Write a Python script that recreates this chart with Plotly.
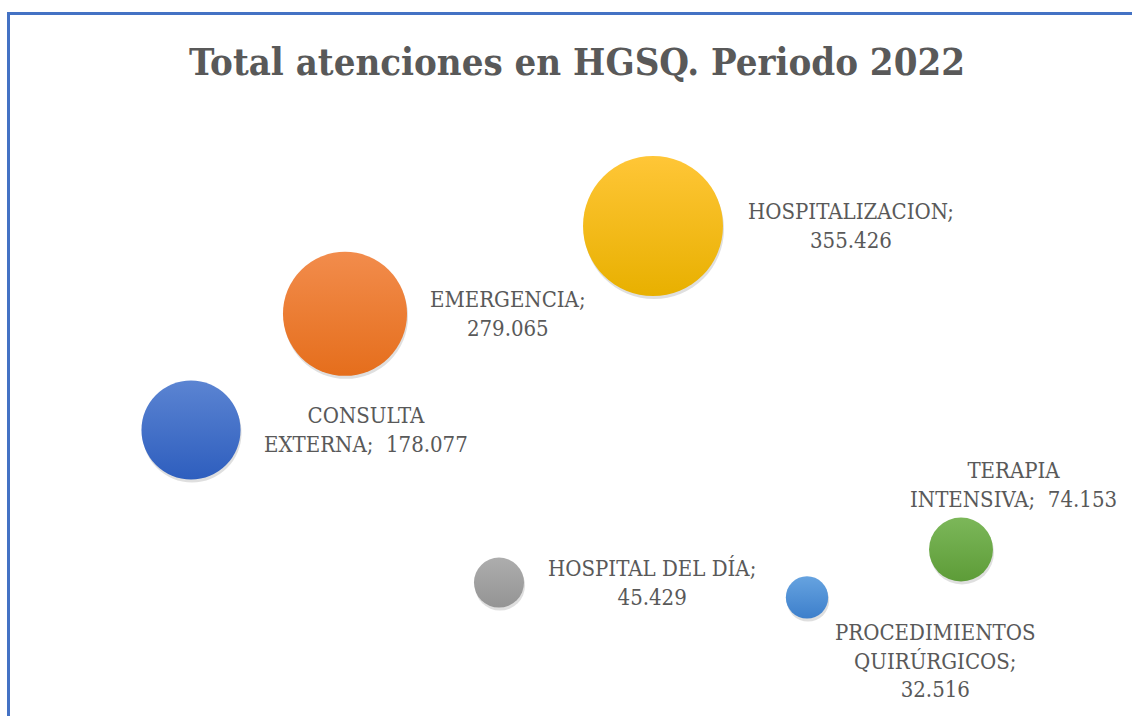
import plotly.graph_objects as go

# ---- data ----
categories = ["CONSULTA EXTERNA", "EMERGENCIA", "HOSPITAL DEL DÍA",
              "HOSPITALIZACION", "PROCEDIMIENTOS QUIRÚRGICOS", "TERAPIA INTENSIVA"]
x_pos = [1, 2, 3, 4, 5, 6]
values = [178077, 279065, 45429, 355426, 32516, 74153]

# ---- style ----
fill_top = ["#5B84D2", "#F28C4C", "#ADADAD", "#FFC637", "#66A3E0", "#7CB759"]
fill_bot = ["#2E5EBE", "#E56E1C", "#949494", "#E8B000", "#3D7FCB", "#5D9C38"]
break_after = [[0], [0], [2], [0], [0, 1], [0]]
label_shift = [(71, 0, "left"), (83, 0, "left"), (47, 0, "left"),
               (93, 0, "left"), (128, -64, "center"), (52, 65, "center")]
max_diam = 140
W, H = 1132, 716
FONT = "DejaVu Serif Condensed"
GREY = "#595959"

xr = [-0.24026, 7.11039]
yr = [-70563, 551902]
px_x = (xr[1] - xr[0]) / W
px_y = (yr[1] - yr[0]) / H

def fmt(v):
    return f"{v:,}".replace(",", ".")

def make_label(name, v, brk):
    toks = (name + ";").split(" ") + [fmt(v)]
    out = ""
    for i, t in enumerate(toks):
        out += t
        if i < len(toks) - 1:
            if i in brk:
                out += "<br>"
            elif t.endswith(";"):
                out += " \u00a0"
            else:
                out += " "
    return out

sizeref = 2.0 * max(values) / max_diam ** 2

fig = go.Figure()
# shadow (on base axes, shifted slightly)
fig.add_trace(go.Scatter(
    x=x_pos, y=values, mode="markers", xaxis="x", yaxis="y",
    marker=dict(size=values, sizemode="area", sizeref=sizeref,
                color="rgba(0,0,0,0.18)", line=dict(width=0)),
    hoverinfo="skip", showlegend=False))
# bubbles
fig.add_trace(go.Scatter(
    x=x_pos, y=values, mode="markers", xaxis="x2", yaxis="y2",
    marker=dict(size=values, sizemode="area", sizeref=sizeref,
                color=fill_top, gradient=dict(type="vertical", color=fill_bot),
                line=dict(width=0), opacity=1),
    showlegend=False))

annotations = []
for name, xv, v, brk, (dx, dy, anc) in zip(categories, x_pos, values, break_after, label_shift):
    annotations.append(dict(
        x=xv, y=v, xref="x2", yref="y2", text=make_label(name, v, brk),
        showarrow=False, xanchor=anc, yanchor="middle", align="center",
        xshift=dx, yshift=dy, font=dict(family=FONT, size=22, color=GREY)))

shapes = [
    dict(type="line", xref="paper", yref="paper", x0=8.5 / W, x1=8.5 / W,
         y0=0, y1=1 - 12 / H, line=dict(color="#4472C4", width=3)),
    dict(type="line", xref="paper", yref="paper", x0=7 / W, x1=1,
         y0=1 - 13.5 / H, y1=1 - 13.5 / H, line=dict(color="#4472C4", width=3)),
]

fig.update_layout(
    width=W, height=H, margin=dict(l=0, r=0, t=0, b=0),
    paper_bgcolor="white", plot_bgcolor="white",
    title=dict(text="<b>Total atenciones en HGSQ. Periodo 2022</b>",
               x=577 / W, xanchor="center", y=1 - 62 / H, yanchor="middle",
               font=dict(family=FONT, size=38, color=GREY)),
    xaxis=dict(visible=False, range=[xr[0] - 1 * px_x, xr[1] - 1 * px_x], fixedrange=True),
    yaxis=dict(visible=False, range=[yr[0] + 3 * px_y, yr[1] + 3 * px_y], fixedrange=True),
    xaxis2=dict(visible=False, range=xr, overlaying="x", fixedrange=True),
    yaxis2=dict(visible=False, range=yr, overlaying="y", fixedrange=True),
    annotations=annotations, shapes=shapes,
)

fig.write_html("out.html", config={"displayModeBar": False},
               post_script="document.body.style.margin='0';document.body.style.overflow='hidden';")
